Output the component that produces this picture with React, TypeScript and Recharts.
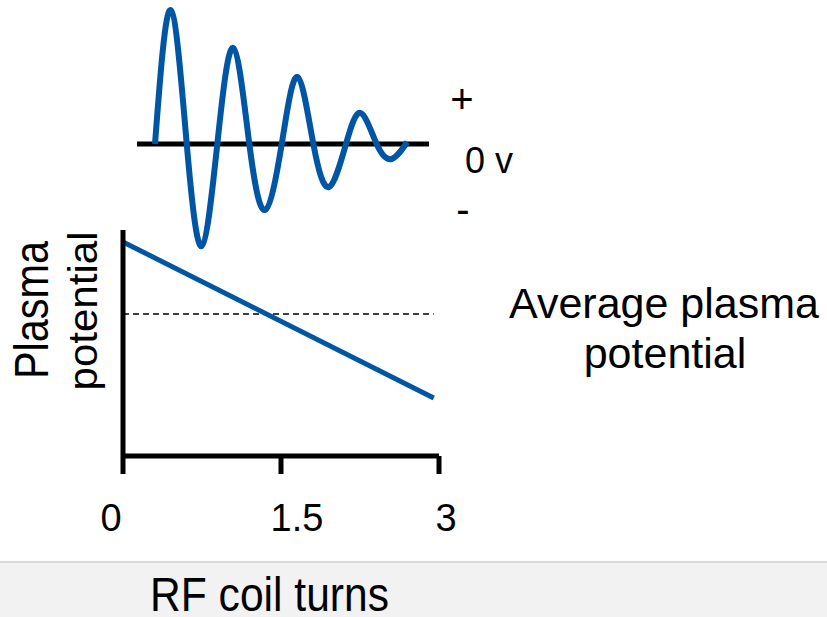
import React from 'react'
import { LineChart, Line, XAxis, YAxis, ReferenceLine } from 'recharts'

// damped RF wave (top panel)
const waveTime = [1.85, 3.46, 5.11, 6.65, 8.25, 9.89, 11.54, 13.15, 14.87, 16.47, 18.12, 19.73, 21.47, 22.98, 24.62, 26.16, 27.77]
const waveVolts = [0, 134, 0, -102, 0, 96, 0, -66, 0, 67, 0, -43, 0, 31, 0, -15, 2]
const zeroTime = [0, 30]

// plasma potential vs coil turns (bottom panel)
const coilTurns = [0, 2.95]
const plasmaPotential = [9.47, 2.57]
const averagePotential = 6.28
const turnTicks = [0, 1.5, 3]

const waveData = waveTime.map((t, i) => ({ t, v: waveVolts[i] }))
const zeroData = zeroTime.map((t) => ({ t, v: 0 }))
const potentialData = coilTurns.map((turns, i) => ({ turns, pp: plasmaPotential[i] }))

const BLUE = '#0056a4'
const FONT = '"Liberation Sans", Arial, sans-serif'

const tickNudge: Record<string, number> = { '0': -12, '1.5': 16, '3': 7 }

function TurnTick(props: any) {
  const { x, y, payload } = props
  const dx = tickNudge[String(payload.value)] ?? 0
  return (
    <text x={x + dx} y={y + 55} textAnchor="middle" fontSize={38} fontFamily={FONT} fill="#000">
      {payload.value}
    </text>
  )
}

export default function App() {
  return (
    <div style={{ position: 'absolute', left: 0, top: 0, width: 827, height: 617, background: '#fff', overflow: 'hidden' }}>
      <div style={{ position: 'absolute', left: 0, top: 0 }}>
        <LineChart width={827} height={260} margin={{ top: 0, right: 398, left: 137, bottom: 0 }}>
          <XAxis type="number" dataKey="t" domain={[0, 30]} hide allowDuplicatedCategory={false} />
          <YAxis type="number" domain={[-116, 144]} hide />
          <Line data={zeroData} dataKey="v" type="linear" stroke="#000" strokeWidth={5} dot={false} isAnimationActive={false} />
          <Line data={waveData} dataKey="v" type="natural" stroke={BLUE} strokeWidth={6} dot={false} isAnimationActive={false} />
        </LineChart>
      </div>

      <div style={{ position: 'absolute', left: 0, top: 0 }}>
        <LineChart width={827} height={617} data={potentialData} margin={{ top: 230, right: 388, left: 0, bottom: 0 }}>
          <XAxis
            type="number"
            dataKey="turns"
            domain={[0, 3]}
            ticks={turnTicks}
            height={161}
            axisLine={{ stroke: '#000', strokeWidth: 5 }}
            tickLine={{ stroke: '#000', strokeWidth: 5 }}
            tickSize={18}
            tick={<TurnTick />}
          />
          <YAxis
            type="number"
            domain={[0, 10]}
            width={123}
            tick={false}
            tickLine={false}
            axisLine={{ stroke: '#000', strokeWidth: 5 }}
          />
          <ReferenceLine
            segment={[{ x: 0, y: averagePotential }, { x: 2.95, y: averagePotential }]}
            stroke="#000"
            strokeWidth={1.5}
            strokeDasharray="6 4"
          />
          <Line dataKey="pp" type="linear" stroke={BLUE} strokeWidth={5} dot={false} isAnimationActive={false} />
        </LineChart>
      </div>

      <div
        style={{
          position: 'absolute',
          left: 0,
          top: 561,
          width: 827,
          height: 56,
          background: '#f2f2f2',
          borderTop: '2px solid #dadada',
        }}
      />

      <svg width={827} height={617} style={{ position: 'absolute', left: 0, top: 0 }} fontFamily={FONT}>
        <text x={462} y={113} textAnchor="middle" fontSize={40}>+</text>
        <text x={465} y={173} fontSize={36}>0 v</text>
        <text x={463} y={223} textAnchor="middle" fontSize={40}>-</text>

        <text x={664} y={318} textAnchor="middle" fontSize={43}>Average plasma</text>
        <text x={665} y={368} textAnchor="middle" fontSize={43}>potential</text>

        <text x={48} y={310} textAnchor="middle" fontSize={48} textLength={138} lengthAdjust="spacingAndGlyphs" transform="rotate(-90 48 310)">
          Plasma
        </text>
        <text x={97} y={311} textAnchor="middle" fontSize={41} textLength={159} lengthAdjust="spacingAndGlyphs" transform="rotate(-90 97 311)">
          potential
        </text>

        <text x={150} y={611} fontSize={48} textLength={239} lengthAdjust="spacingAndGlyphs">
          RF coil turns
        </text>
      </svg>
    </div>
  )
}
